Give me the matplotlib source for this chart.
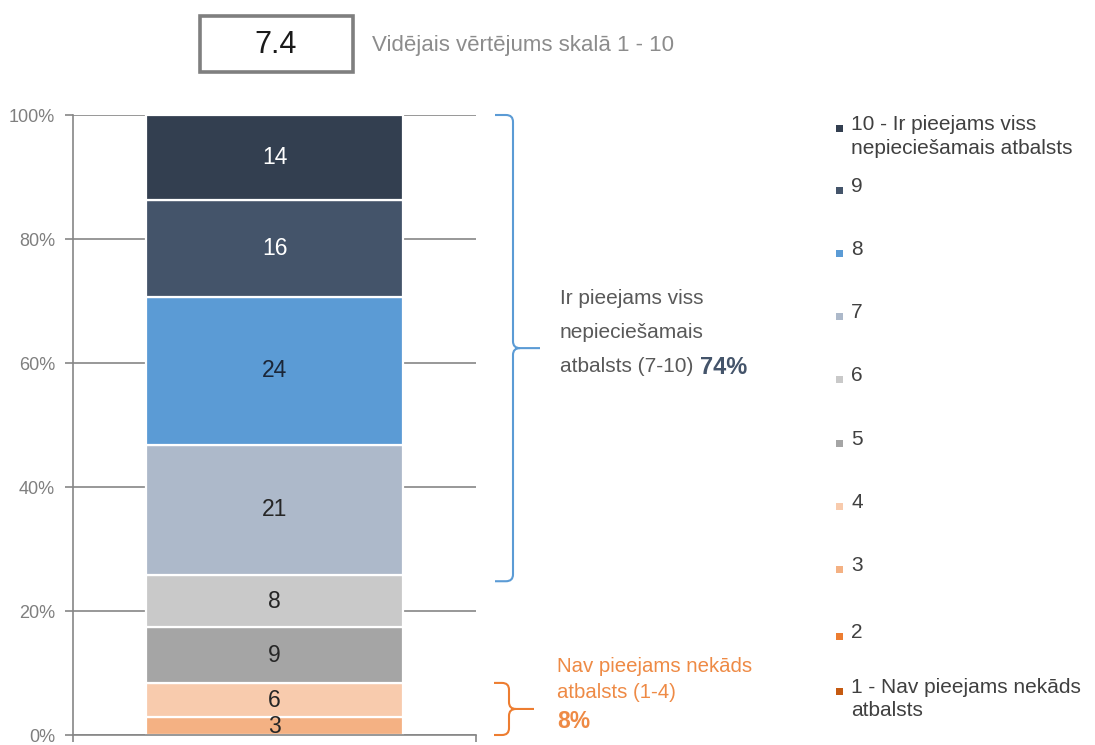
import matplotlib
matplotlib.use("Agg")
import matplotlib.pyplot as plt
from matplotlib import font_manager
from matplotlib.path import Path
from matplotlib.patches import PathPatch, Rectangle
import matplotlib.transforms as mtransforms

# ---------------- data ----------------
categories = ["1 - Nav pieejams nekāds\natbalsts", "2", "3", "4", "5", "6", "7", "8", "9",
              "10 - Ir pieejams viss\nnepieciešamais atbalsts"]
values = [0.0, 0.0, 2.85, 5.55, 9.0, 8.4, 21.0, 23.9, 15.6, 13.7]
colors = ["#C55A11", "#ED7D31", "#F4B183", "#F8CBAD", "#A5A5A5", "#C9C9C9",
          "#ADB9CA", "#5B9BD5", "#44546A", "#333F50"]
label_colors = ["#262626"] * 7 + ["#1B2638", "#FFFFFF", "#FFFFFF"]
mean_score = 7.4
mean_label = "Vidējais vērtējums skalā 1 - 10"
yticks = [0, 20, 40, 60, 80, 100]
high_text = ["Ir pieejams viss", "nepieciešamais", "atbalsts (7-10)"]
low_text = ["Nav pieejams nekāds", "atbalsts (1-4)"]
low_idx = [0, 1, 2, 3]
high_idx = [6, 7, 8, 9]

# ---------------- fonts ----------------
names = {f.name for f in font_manager.fontManager.ttflist}
HAS_NARROW = "Liberation Sans Narrow" in names
NARROW = "Liberation Sans Narrow" if HAS_NARROW else "Liberation Sans"
REG = "Liberation Sans"

W, H = 1095, 745
fig = plt.figure(figsize=(W / 100, H / 100), dpi=100)

def fx(px):
    return px / W

def fy(py):
    return 1 - py / H

ax_l, ax_r, ax_t, ax_b = 73, 476, 115, 735
ax = fig.add_axes([fx(ax_l), fy(ax_b), fx(ax_r - ax_l), (ax_b - ax_t) / H])
ax.set_xlim(-0.5, 0.5)
ax.set_ylim(0, 100)

grid_c = "#868686"
ax.set_yticks(yticks)
ax.set_yticklabels([f"{t}%" for t in yticks], fontfamily=NARROW, fontsize=13, color="#7F7F7F")
ax.tick_params(axis="y", length=6, width=1.2, color=grid_c, pad=7)
ax.set_xticks([-0.5, 0.5])
ax.set_xticklabels([])
ax.tick_params(axis="x", length=5, width=1.2, color=grid_c, direction="out")
ax.yaxis.grid(True, color=grid_c, linewidth=1.2, zorder=0)
ax.set_axisbelow(True)
for s in ["top", "right"]:
    ax.spines[s].set_visible(False)
for s in ["left", "bottom"]:
    ax.spines[s].set_color(grid_c)
    ax.spines[s].set_linewidth(1.2)

bottom = 0.0
for v, c, lc in zip(values, colors, label_colors):
    if v > 0:
        ax.bar(0, v, width=0.64, bottom=bottom, color=c, edgecolor="white", linewidth=1.6, zorder=2)
        ax.text(0, bottom + v / 2, f"{v:.0f}", ha="center", va="center", fontfamily=NARROW,
                fontsize=16.5, color=lc, zorder=3)
    bottom += v

# ---------------- braces ----------------
blend = mtransforms.blended_transform_factory(ax.transAxes, ax.transData)

def axfrac(px):
    return (px - ax_l) / (ax_r - ax_l)

def brace(x0p, x1p, x2p, ytop, ybot, color):
    x0, x1, x2 = axfrac(x0p), axfrac(x1p), axfrac(x2p)
    dx = axfrac(x1p) - axfrac(x1p - 7)
    dy = 1.1
    ymid = (ytop + ybot) / 2
    verts = [(x0, ytop), (x1 - dx, ytop), (x1, ytop), (x1, ytop - dy),
             (x1, ymid + dy), (x1, ymid), (x1 + dx, ymid), (x2, ymid),
             (x1 + dx, ymid), (x1, ymid), (x1, ymid - dy),
             (x1, ybot + dy), (x1, ybot), (x1 - dx, ybot), (x0, ybot)]
    codes = [Path.MOVETO, Path.LINETO, Path.CURVE3, Path.CURVE3,
             Path.LINETO, Path.CURVE3, Path.CURVE3, Path.LINETO,
             Path.MOVETO, Path.CURVE3, Path.CURVE3,
             Path.LINETO, Path.CURVE3, Path.CURVE3, Path.LINETO]
    p = PathPatch(Path(verts, codes), fill=False, edgecolor=color, linewidth=1.5,
                  transform=blend, clip_on=False)
    ax.add_patch(p)

low_total = sum(values[i] for i in low_idx)
high_total = sum(values[i] for i in high_idx)
high_start = sum(values[:high_idx[0]])
brace(495, 513, 540, 100, high_start - 1.0, "#5B9BD5")
brace(494, 509, 534, low_total, 0, "#ED7D31")

# ---------------- annotations ----------------
gray_t = "#595959"
for txt, py in zip(high_text, [298, 332, 366]):
    t = fig.text(fx(560), fy(py), txt, ha="left", va="center", fontfamily=REG, fontsize=15, color=gray_t)
ax.annotate(f"{high_total:.0f}%", xy=(1, 0.5), xycoords=t, xytext=(5, -1), textcoords="offset points",
            ha="left", va="center", fontfamily=REG, fontsize=17, fontweight="bold", color="#44546A")

orange_t = "#EE8A45"
for txt, py in zip(low_text, [667, 692]):
    fig.text(fx(557), fy(py), txt, ha="left", va="center", fontfamily=REG, fontsize=14.7, color=orange_t)
fig.text(fx(557), fy(722), f"{low_total:.0f}%", ha="left", va="center", fontfamily=REG, fontsize=16.5,
         fontweight="bold", color=orange_t)

# ---------------- mean box ----------------
box = Rectangle((fx(200), fy(72)), fx(353 - 200), (72 - 16) / H, transform=fig.transFigure,
                fill=True, facecolor="white", edgecolor="#7F7F7F", linewidth=2.6)
fig.patches.append(box)
fig.text(fx(276), fy(45), f"{mean_score}", ha="center", va="center", fontfamily=NARROW,
         fontsize=22, color="#1A1A1A")
fig.text(fx(372), fy(45), mean_label, ha="left", va="center", fontfamily=NARROW,
         fontsize=16, color="#8C8C8C")

# ---------------- legend ----------------
leg_y = [125, 187, 250, 313, 376, 440, 503, 566, 633, 688]
for cat, c, py in zip(categories[::-1], colors[::-1], leg_y):
    fig.patches.append(Rectangle((fx(836), fy(py + 7)), fx(7), 7 / H, transform=fig.transFigure,
                                 facecolor=c, edgecolor="none"))
    fig.text(fx(851), fy(py - 10), cat, ha="left", va="top", fontfamily=REG, fontsize=15,
             color="#404040", linespacing=1.3)

fig.savefig("out.png", dpi=100)
